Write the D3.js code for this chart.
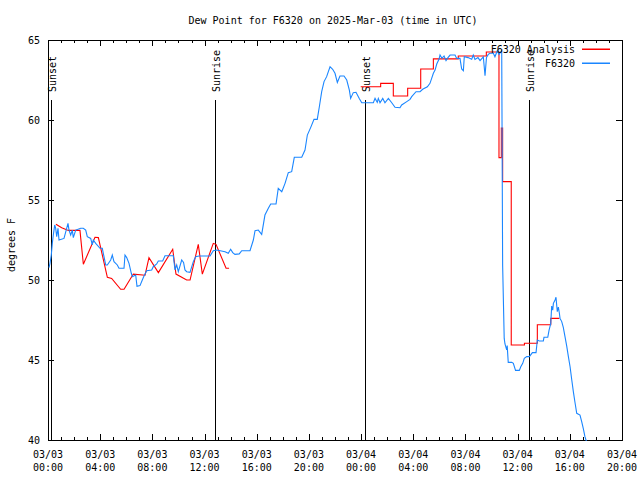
<!DOCTYPE html>
<html>
<head>
<meta charset="utf-8">
<script src="https://cdn.jsdelivr.net/npm/d3@7"></script>
<style>
  html, body { margin: 0; padding: 0; background: #fff; }
  svg { display: block; }
  text { font-family: "DejaVu Sans Mono", "Liberation Mono", monospace; font-size: 10px; fill: #000; }
</style>
</head>
<body>
<svg id="chart" width="640" height="480"></svg>
<script>
// ---------- DATA (hours since 2025-03-03 00:00 UTC) ----------
const titleText = "Dew Point for F6320 on 2025-Mar-03 (time in UTC)";
const yLabelText = "degrees F";
const seriesNames = ["F6320 Analysis", "F6320"];

const yTickValues = [40, 45, 50, 55, 60, 65];
const xMajorTickHours = [0, 4, 8, 12, 16, 20, 24, 28, 32, 36, 40, 44];

const sunLabels = ["Sunset", "Sunrise", "Sunset", "Sunrise"];
const sunHours = [0.24, 12.8, 24.28, 36.87];

// Analysis, first segment (linear)
const analysisHoursA = [0.61, 1.05, 1.56, 2.45, 2.71, 3.60, 3.86, 4.55, 4.88, 5.57, 5.83, 6.54, 7.44, 7.74, 8.46, 9.56, 9.81, 10.63, 10.89, 11.52, 11.83, 12.67, 12.88, 13.65, 13.88];
const analysisValuesA = [53.48, 53.27, 53.1, 53.1, 50.98, 52.67, 52.65, 50.17, 50.1, 49.42, 49.42, 50.37, 50.3, 51.4, 50.46, 51.92, 50.37, 50.0, 50.0, 52.23, 50.37, 52.29, 52.23, 50.73, 50.73];

// Analysis, second segment (steps)
const analysisHoursB = [23.97, 25.5, 26.47, 27.57, 28.57, 29.54, 31.45, 33.6, 34.57, 34.75, 34.85, 35.51, 36.52, 37.51, 38.54, 39.2];
const analysisValuesB = [62.08, 62.29, 61.5, 61.98, 63.19, 63.82, 64.0, 64.25, 57.65, 59.5, 56.15, 45.94, 46.05, 47.2, 47.6, 47.6];

// Observations
const obsHours = [0.077, 0.153, 0.253, 0.33, 0.406, 0.46, 0.514, 0.59, 0.667, 0.767, 0.843, 1.227, 1.533, 1.61, 1.74, 1.863, 1.94, 2.123, 2.507, 2.706, 2.89, 3.013, 3.273, 3.396, 3.473, 3.657, 3.986, 4.163, 4.239, 4.423, 4.546, 4.806, 4.929, 5.059, 5.312, 5.443, 5.826, 5.903, 6.033, 6.209, 6.386, 6.462, 6.723, 6.822, 7.052, 7.229, 7.359, 7.566, 7.949, 8.07, 8.33, 8.455, 8.79, 8.97, 9.605, 9.736, 9.866, 9.989, 10.25, 10.39, 10.50, 10.63, 10.885, 11.14, 11.32, 11.575, 12.42, 12.67, 12.93, 13.57, 13.82, 14.0, 14.16, 14.33, 14.66, 14.85, 15.485, 15.74, 15.87, 16.12, 16.38, 16.63, 16.89, 17.07, 17.48, 17.65, 17.92, 18.17, 18.42, 18.68, 18.88, 19.45, 19.70, 19.88, 20.14, 20.39, 20.64, 20.80, 20.98, 21.16, 21.36, 21.49, 21.62, 21.82, 22.0, 22.18, 22.38, 22.69, 22.90, 23.10, 23.20, 23.40, 23.61, 23.86, 24.05, 24.94, 25.07, 25.24, 25.32, 25.45, 25.66, 25.83, 26.09, 26.35, 26.60, 26.98, 27.11, 27.50, 27.75, 27.88, 28.21, 28.52, 28.72, 29.08, 29.28, 29.41, 29.54, 29.67, 29.80, 29.97, 30.05, 30.20, 30.36, 30.51, 30.66, 30.82, 31.2, 31.33, 31.58, 31.71, 31.84, 31.91, 32.2, 32.48, 32.60, 32.73, 32.96, 33.12, 33.37, 33.50, 33.61, 33.75, 33.88, 34.14, 34.26, 34.44, 34.57, 34.78, 34.85, 34.97, 35.03, 35.16, 35.2, 35.28, 35.55, 35.67, 35.84, 36.13, 36.24, 36.39, 36.51, 36.70, 36.90, 37.13, 37.41, 37.51, 37.66, 37.97, 38.02, 38.31, 38.41, 38.54, 38.61, 38.69, 38.74, 38.87, 38.94, 39.04, 39.12, 39.20, 39.25, 39.38, 39.50, 39.63, 39.76, 39.89, 40.02, 40.15, 40.27, 40.40, 40.53, 40.78, 40.91, 41.03, 41.16, 41.24, 41.4];
const obsValues = [50.77, 51.04, 51.56, 52.29, 52.81, 53.12, 53.44, 53.23, 52.71, 53.23, 52.5, 52.6, 53.54, 53.12, 52.81, 53.12, 52.65, 53.12, 53.23, 53.23, 53.12, 52.71, 52.6, 52.19, 52.5, 52.29, 51.98, 51.98, 51.67, 50.94, 50.94, 51.25, 51.56, 51.15, 50.94, 50.73, 50.73, 51.56, 51.4, 51.04, 50.42, 50.21, 50.31, 49.6, 49.65, 50.0, 50.25, 50.58, 50.63, 50.83, 51.0, 51.19, 51.19, 51.52, 51.52, 50.63, 50.94, 50.52, 51.25, 51.1, 50.63, 50.52, 50.48, 51.15, 51.46, 51.5, 51.5, 51.83, 51.87, 51.77, 51.67, 51.92, 51.71, 51.6, 51.63, 51.83, 51.83, 52.5, 53.08, 53.12, 52.85, 54.06, 54.48, 54.75, 54.75, 55.73, 55.52, 56.04, 56.71, 56.77, 57.67, 57.67, 58.12, 59.06, 59.54, 60.04, 60.04, 60.83, 61.77, 62.4, 62.71, 63.02, 63.33, 63.17, 62.92, 62.35, 62.75, 62.75, 62.5, 61.87, 61.35, 61.71, 61.73, 61.35, 61.08, 61.08, 61.35, 61.1, 61.35, 61.08, 61.35, 61.08, 61.35, 61.08, 60.8, 60.77, 60.94, 61.15, 61.29, 61.46, 61.77, 61.77, 61.92, 62.08, 62.29, 62.6, 62.92, 63.12, 63.5, 63.79, 64.06, 63.85, 64.0, 63.71, 63.9, 64.06, 64.06, 63.85, 63.85, 63.19, 63.08, 63.96, 63.9, 63.8, 64.06, 63.79, 63.9, 63.71, 63.95, 62.77, 63.9, 64.1, 64.17, 64.17, 63.95, 64.33, 64.1, 64.33, 50.94, 46.35, 46.0, 45.63, 45.9, 44.85, 44.85, 44.79, 44.35, 44.35, 44.58, 44.79, 45.1, 45.21, 45.21, 45.46, 45.46, 46.25, 46.19, 46.19, 46.42, 46.42, 46.87, 47.29, 48.37, 48.12, 48.54, 48.75, 48.92, 48.02, 48.3, 47.92, 47.6, 47.4, 47.04, 46.46, 45.88, 45.21, 44.58, 43.75, 43.02, 42.33, 41.67, 41.56, 41.15, 40.73, 40.21, 40.0, 39.6];

// ---------- CHART ----------
(function () {
const start = Date.UTC(2025, 2, 3, 0, 0);
const hourToDate = h => new Date(start + h * 3600000);

const pL = 48, pR = 622, pT = 40, pB = 440;
const svg = d3.select("#chart");

const x = d3.scaleUtc().domain([hourToDate(0), hourToDate(44)]).range([pL, pR]);
const y = d3.scaleLinear().domain([40, 65]).range([pB, pT]);

const majorTicks = xMajorTickHours.map(hourToDate);
const minorTicks = d3.utcHour.range(hourToDate(0), hourToDate(44.01), 1)
  .filter(d => d.getUTCHours() % 4 !== 0);

// title
svg.append("text").attr("x", 333).attr("y", 24).attr("text-anchor", "middle").text(titleText);

// y label
svg.append("text").attr("transform", "translate(15,245) rotate(-90)")
  .attr("text-anchor", "middle").text(yLabelText);

const fmtDate = d3.utcFormat("%m/%d"), fmtTime = d3.utcFormat("%H:%M");

const gB = svg.append("g").attr("transform", `translate(0,${pB})`)
  .call(d3.axisBottom(x).tickValues(majorTicks).tickSize(-6).tickSizeOuter(0).tickFormat(""));
const gBm = svg.append("g").attr("transform", `translate(0,${pB})`)
  .call(d3.axisBottom(x).tickValues(minorTicks).tickSize(-3).tickSizeOuter(0).tickFormat(""));
const gT = svg.append("g").attr("transform", `translate(0,${pT})`)
  .call(d3.axisTop(x).tickValues(majorTicks).tickSize(-6).tickSizeOuter(0).tickFormat(""));
const gTm = svg.append("g").attr("transform", `translate(0,${pT})`)
  .call(d3.axisTop(x).tickValues(minorTicks).tickSize(-3).tickSizeOuter(0).tickFormat(""));
const gL = svg.append("g").attr("transform", `translate(${pL},0)`)
  .call(d3.axisLeft(y).tickValues(yTickValues).tickSize(-6).tickSizeOuter(0).tickPadding(8).tickFormat(d3.format("d")));
const gR = svg.append("g").attr("transform", `translate(${pR},0)`)
  .call(d3.axisRight(y).tickValues(yTickValues).tickSize(-6).tickSizeOuter(0).tickFormat(""));

[gB, gBm, gT, gTm, gL, gR].forEach(g => {
  g.attr("font-family", null).attr("font-size", null);
  g.select(".domain").remove();
  g.selectAll("line").attr("stroke", "#000").attr("shape-rendering", "crispEdges");
});
gL.selectAll("text").attr("fill", "#000");

// two-line x labels
majorTicks.forEach(d => {
  const t = svg.append("text").attr("text-anchor", "middle");
  t.append("tspan").attr("x", x(d)).attr("y", 458).text(fmtDate(d));
  t.append("tspan").attr("x", x(d)).attr("y", 471).text(fmtTime(d));
});

// frame
svg.append("rect").attr("x", pL + 0.5).attr("y", pT + 0.5)
  .attr("width", pR - pL).attr("height", pB - pT)
  .attr("fill", "none").attr("stroke", "#000").attr("shape-rendering", "crispEdges");

// clip
svg.append("clipPath").attr("id", "plotclip").append("rect")
  .attr("x", pL).attr("y", pT).attr("width", pR - pL + 1).attr("height", pB - pT + 1);

// sun lines
sunHours.forEach((h, i) => {
  const xx = Math.round(x(hourToDate(h))) + 0.5;
  svg.append("line").attr("x1", xx).attr("x2", xx).attr("y1", 100).attr("y2", pB)
    .attr("stroke", "#000").attr("shape-rendering", "crispEdges");
  svg.append("text").attr("transform", `translate(${xx + 1},92) rotate(-90)`)
    .attr("dy", "0.35em").attr("text-anchor", "start").text(sunLabels[i]);
});

const plot = svg.append("g").attr("clip-path", "url(#plotclip)");

const line = d3.line().x(d => x(hourToDate(d[0]))).y(d => y(d[1]));
const stepLine = d3.line().x(d => x(hourToDate(d[0]))).y(d => y(d[1])).curve(d3.curveStepAfter);

const redColor = "#ff0000", blueColor = "#1a86ff";

plot.append("path").datum(analysisHoursA.map((h, i) => [h, analysisValuesA[i]]))
  .attr("d", line).attr("fill", "none").attr("stroke", redColor).attr("stroke-width", 1.1);
plot.append("path").datum(analysisHoursB.map((h, i) => [h, analysisValuesB[i]]))
  .attr("d", stepLine).attr("fill", "none").attr("stroke", redColor).attr("stroke-width", 1.1);
plot.append("path").datum(obsHours.map((h, i) => [h, obsValues[i]]))
  .attr("d", line).attr("fill", "none").attr("stroke", blueColor).attr("stroke-width", 1.1);

// legend
const legendColors = [redColor, blueColor];
seriesNames.forEach((name, i) => {
  const ly = 49 + i * 14;
  svg.append("text").attr("x", 575).attr("y", ly).attr("dy", "0.35em")
    .attr("text-anchor", "end").text(name);
  svg.append("rect").attr("x", 582).attr("y", ly - 0.5).attr("width", 28).attr("height", 1.5)
    .style("fill", legendColors[i]).style("stroke", "none");
});
})();
</script>
</body>
</html>
